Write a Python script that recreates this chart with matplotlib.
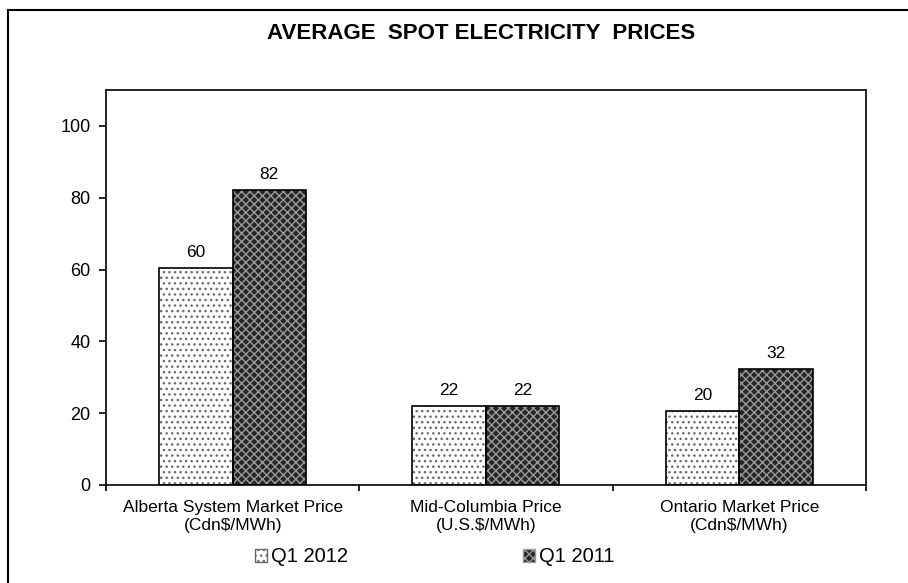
import matplotlib.pyplot as plt
from matplotlib.lines import Line2D
from matplotlib.patches import Patch
import numpy as np

plt.rcParams["font.family"] = ["Liberation Sans", "DejaVu Sans"]
plt.rcParams["hatch.linewidth"] = 1.0

categories = ["Alberta System Market Price\n(Cdn$/MWh)",
              "Mid-Columbia Price\n(U.S.$/MWh)",
              "Ontario Market Price\n(Cdn$/MWh)"]
q1_2012 = [60.4, 22.0, 20.5]
q1_2011 = [82.2, 22.0, 32.3]
labels_2012 = ["60", "22", "20"]
labels_2011 = ["82", "22", "32"]
series_names = ["Q1 2012", "Q1 2011"]

fig = plt.figure(figsize=(9.08, 5.83), dpi=100)
ax = fig.add_axes([0.1167, 0.1681, 0.837, 0.6775])

x = np.arange(len(categories))
w = 0.29

styles = [
    dict(facecolor="white", hatch="...", hatch_color="#6a6a6a"),
    dict(facecolor="#262626", hatch="xxxx", hatch_color="#9a9a9a"),
]

for i, (vals, labs) in enumerate([(q1_2012, labels_2012), (q1_2011, labels_2011)]):
    st = styles[i]
    pos = x + (i - 0.5) * w
    ax.bar(pos, vals, w, color=st["facecolor"], edgecolor=st["hatch_color"],
           hatch=st["hatch"], linewidth=0, zorder=2)
    ax.bar(pos, vals, w, fill=False, edgecolor="black", linewidth=1.2, zorder=3)
    for p, v, t in zip(pos, vals, labs):
        ax.text(p, v + 2.3, t, ha="center", va="bottom", fontsize=12.5)

ax.set_xlim(-0.5, len(categories) - 0.5)
ax.set_ylim(0, 110)
ax.set_yticks(range(0, 101, 20))
ax.tick_params(axis="y", direction="out", length=5, width=1.2, labelsize=13, pad=6)
ax.set_xticks(x)
ax.set_xticklabels(categories, fontsize=12.5)
ax.tick_params(axis="x", length=0, pad=11)
ax.set_xticks(np.arange(len(categories) + 1) - 0.5, minor=True)
ax.tick_params(axis="x", which="minor", direction="out", length=4, width=1.2)
for s in ax.spines.values():
    s.set_linewidth(1.2)
    s.set_color("black")

handles = [
    Patch(facecolor=styles[0]["facecolor"], edgecolor=styles[0]["hatch_color"], hatch=styles[0]["hatch"]),
    Patch(facecolor=styles[1]["facecolor"], edgecolor=styles[1]["hatch_color"], hatch=styles[1]["hatch"]),
]
fig.legend(handles, series_names, loc="center", bbox_to_anchor=(0.479, 0.045),
           ncol=2, frameon=False, fontsize=14.5, handlelength=0.6, handleheight=0.6,
           handletextpad=0.2, columnspacing=8.7)

fig.text(0.530, 0.943, "AVERAGE  SPOT ELECTRICITY  PRICES", ha="center", va="center",
         fontsize=16, fontweight="bold")

# outer chart frame (left and top edges visible)
fig.add_artist(Line2D([8 / 908, 8 / 908], [0, 1 - 10 / 583], color="black", lw=1.5,
                      transform=fig.transFigure))
fig.add_artist(Line2D([8 / 908, 1], [1 - 10 / 583, 1 - 10 / 583], color="black", lw=1.5,
                      transform=fig.transFigure))

fig.savefig("out.png", dpi=100)
